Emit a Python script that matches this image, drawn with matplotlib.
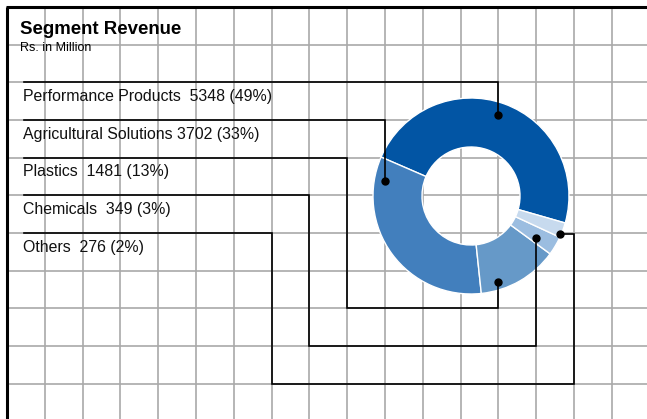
import matplotlib
matplotlib.use("Agg")
import matplotlib.pyplot as plt
import numpy as np

# ---- data ----
segments = ["Performance Products", "Agricultural Solutions", "Plastics", "Chemicals", "Others"]
revenue = [5348, 3702, 1481, 349, 276]
pct_labels = [49, 33, 13, 3, 2]
separators = ["  ", " ", "  ", "  ", "  "]
colors = ["#0255A4", "#427FBD", "#6699C8", "#9BBDE0", "#C7DAEE"]
title = "Segment Revenue"
subtitle = "Rs. in Million"

W, H = 647, 419
fig = plt.figure(figsize=(W / 100, H / 100), dpi=100)
ax = fig.add_axes([0, 0, 1, 1])

# grid geometry (pixels)
x0, y0 = 7.0, 7.0
dx, dy = 37.8, 37.65
gx = lambda k: x0 + dx * k
gy = lambda k: y0 + dy * k

for k in range(1, 17):
    ax.plot([gx(k), gx(k)], [y0, H + 5], color="#A9A9A9", lw=1.2, zorder=1, solid_capstyle="butt")
for k in range(1, 12):
    ax.plot([x0, W + 5], [gy(k), gy(k)], color="#A9A9A9", lw=1.2, zorder=1, solid_capstyle="butt")
# border
ax.plot([x0, x0], [y0, H + 5], color="black", lw=2.2, zorder=5, solid_capstyle="butt")
ax.plot([x0 - 1, W + 5], [y0, y0], color="black", lw=2.2, zorder=5, solid_capstyle="butt")

# donut
center = (471, 196)
R = 98
ax.pie(revenue, colors=colors, startangle=16, counterclock=False, radius=R,
       center=center, wedgeprops=dict(width=49, edgecolor="white", linewidth=1.0),
       frame=True)

# leader lines (on grid)
paths = [
    [(23.5, gy(2)), (gx(13), gy(2)), (gx(13), 115)],
    [(23.5, gy(3)), (gx(10), gy(3)), (gx(10), 181)],
    [(23.5, gy(4)), (gx(9), gy(4)), (gx(9), gy(8)), (gx(13), gy(8)), (gx(13), 282)],
    [(23.5, gy(5)), (gx(8), gy(5)), (gx(8), gy(9)), (gx(14), gy(9)), (gx(14), 238)],
    [(23.5, gy(6)), (gx(7), gy(6)), (gx(7), gy(10)), (gx(15), gy(10)), (gx(15), 233.5), (559.5, 233.5)],
]
for p, name, val, pc, sep in zip(paths, segments, revenue, pct_labels, separators):
    xs, ys = zip(*p)
    ax.plot(xs, ys, color="black", lw=1.2, zorder=6, solid_joinstyle="miter")
    ax.plot([xs[-1]], [ys[-1]], "o", color="black", ms=5, zorder=7)
    ax.text(23, p[0][1] + 18.8, f"{name}{sep}{val} ({pc}%)", fontsize=11.45,
            family="Liberation Sans", va="baseline", ha="left", color="#111111", zorder=8)

ax.text(20.5, 34.3, title, fontsize=13.4, fontweight="bold", family="Liberation Sans",
        va="baseline", ha="left", color="black", zorder=8)
ax.text(20.5, 51, subtitle, fontsize=9.0, family="Liberation Sans",
        va="baseline", ha="left", color="black", zorder=8)

ax.set_xlim(0, W)
ax.set_ylim(H, 0)
ax.set_aspect("auto")
ax.axis("off")
fig.savefig("out.png", dpi=100, facecolor="white")
